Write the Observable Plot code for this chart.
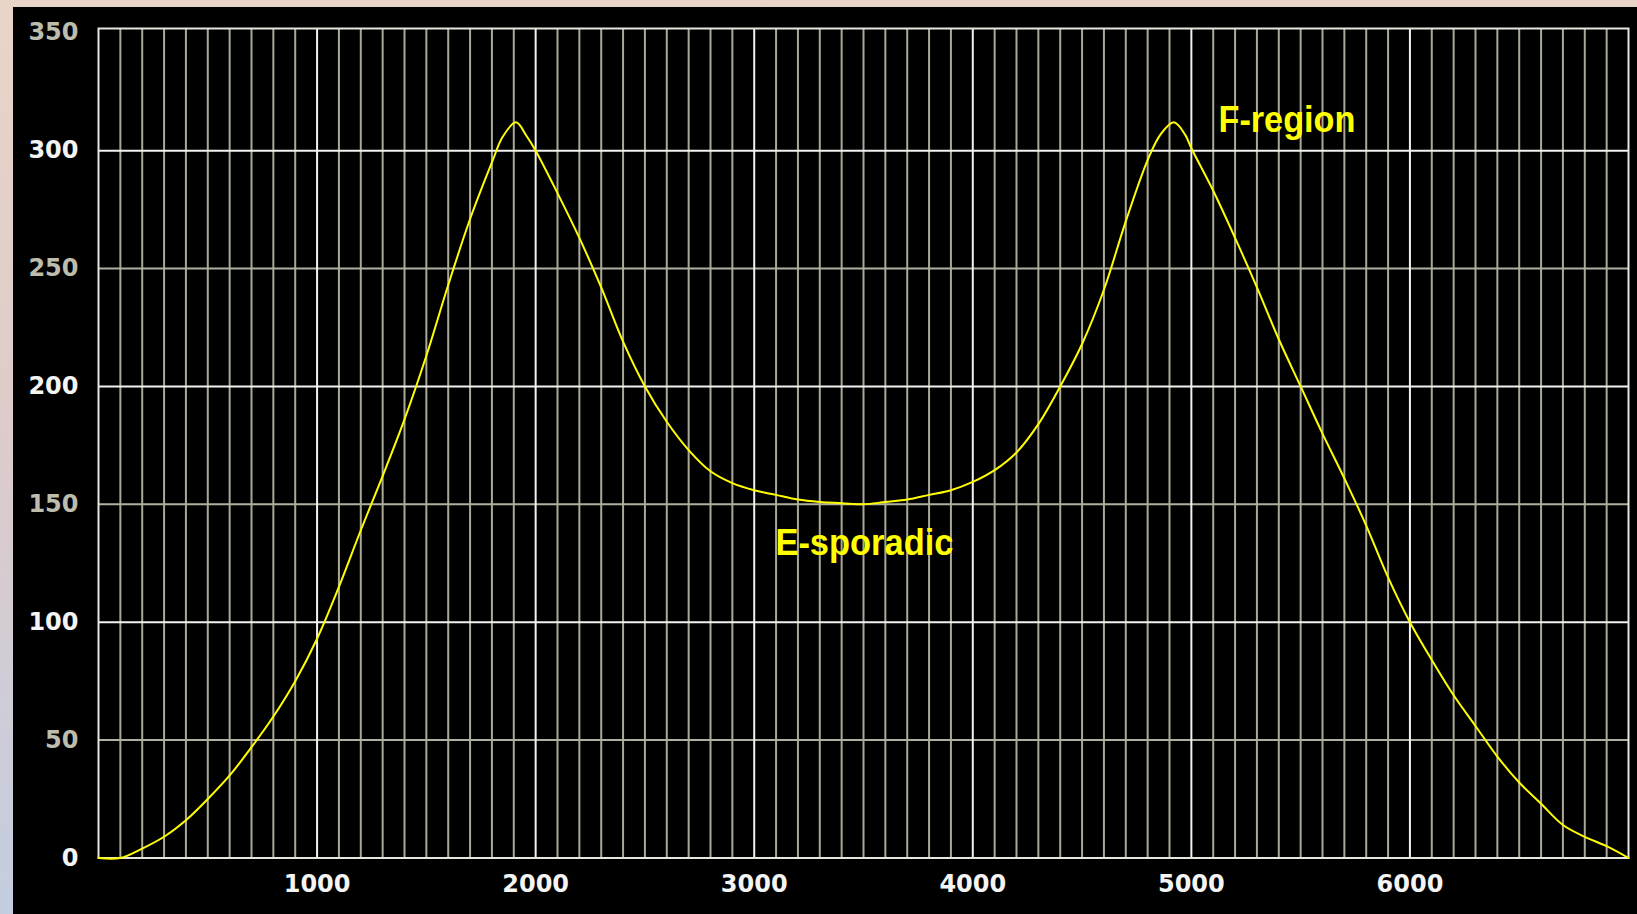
<!DOCTYPE html>
<html><head><meta charset="utf-8">
<script src="https://cdn.jsdelivr.net/npm/d3@7"></script>
<script src="https://cdn.jsdelivr.net/npm/@observablehq/plot@0.6"></script>
<style>
html,body{margin:0;padding:0;}
body{width:1637px;height:914px;overflow:hidden;position:relative;
  background:linear-gradient(to bottom,#e9d4c7 0%,#dccbcb 50%,#c3cde0 100%);}
#panel{position:absolute;left:13px;top:7px;width:1624px;height:907px;background:#000;}
</style></head><body><div id="panel"></div>
<script>
const distance = [0,100,200,300,400,500,600,700,800,900,1000,1100,1200,1300,1400,1500,1600,1700,1800,1850,1910,1960,2000,2100,2200,2300,2400,2500,2600,2700,2800,2900,3000,3100,3200,3300,3400,3500,3600,3700,3800,3900,4000,4100,4200,4300,4400,4500,4600,4700,4800,4860,4920,4970,5000,5100,5200,5300,5400,5500,5600,5700,5800,5900,6000,6100,6200,6300,6400,6500,6600,6700,6800,6900,7000];
const level = [0,0,4,9,16,25,35,47,60,75,93,115,139,162,186,213,243,271,295,306,312,306,300,282,263,242,219,200,185,173,164,159,156,154,152,151,150.5,150,151,152,154,156,159.5,164.5,172,184,200,218,241,270,296,307,312,307,301,283,263,242,220,200,180,161,141,119,100,84,69,56,43,32,23,14,9,5,0];
const xTickLabels = [1000,2000,3000,4000,5000,6000];
const yMajorTicks = [0,100,200,300];
const yMinorTicks = [50,150,250];
const yTopTick = [350];
const labelText = ["F-region","E-sporadic"];
const labelX = [5124,3097];
const labelY = [313,133.6];

const curve = distance.map((d,i)=>({x:d, y:level[i]}));
const labels = labelText.map((t,i)=>({t, x:labelX[i], y:labelY[i]}));
const xMinorGrid = d3.range(100,7000,100).filter(d=>d%1000!==0);
const xMajorGrid = d3.range(1000,7000,1000);
const tickFont = {tickSize:0, fontSize:24, fontWeight:"bold", label:null};

const chart = Plot.plot({
  width:1624, height:907,
  marginLeft:85, marginRight:9, marginTop:21, marginBottom:56.5,
  x:{domain:[0,7000]},
  y:{domain:[0,351.8]},
  style:{background:"black", color:"#fff", fontFamily:"DejaVu Sans, sans-serif", overflow:"visible"},
  marks:[
    Plot.ruleX(xMinorGrid, {stroke:"#a9a996", strokeWidth:2}),
    Plot.ruleY(yMinorTicks, {stroke:"#b0b0a0", strokeWidth:2}),
    Plot.ruleX(xMajorGrid, {stroke:"#f2f2f2", strokeWidth:2}),
    Plot.ruleY(yMajorTicks, {stroke:"#f2f2f2", strokeWidth:2}),
    Plot.frame({stroke:"#e6e6e0", strokeWidth:2}),
    Plot.line(curve, {x:"x", y:"y", stroke:"#ffff00", strokeWidth:2, curve:"catmull-rom"}),
    Plot.text(labels, {x:"x", y:"y", text:"t", textAnchor:"start", lineAnchor:"middle", fill:"#ffff00",
      fontSize:37, fontWeight:"bold", fontFamily:"Liberation Sans, Arial, sans-serif"}),
    Plot.axisX(xTickLabels, {...tickFont, tickPadding:17, fill:"#f4f4f4", tickFormat:d3.format("d")}),
    Plot.axisY(yMajorTicks, {...tickFont, tickPadding:20, fill:"#f4f4f4"}),
    Plot.axisY(yMinorTicks.concat(yTopTick), {...tickFont, tickPadding:20, fill:"#bdbdae"})
  ]
});
// narrow the annotation lettering to match the condensed face of the original
const targetWidth = {"F-region":137, "E-sporadic":178};
chart.querySelectorAll("text").forEach(t => {
  const w = targetWidth[t.textContent];
  if (w) { t.setAttribute("textLength", w); t.setAttribute("lengthAdjust", "spacingAndGlyphs"); }
});
document.getElementById("panel").appendChild(chart);
</script></body></html>
